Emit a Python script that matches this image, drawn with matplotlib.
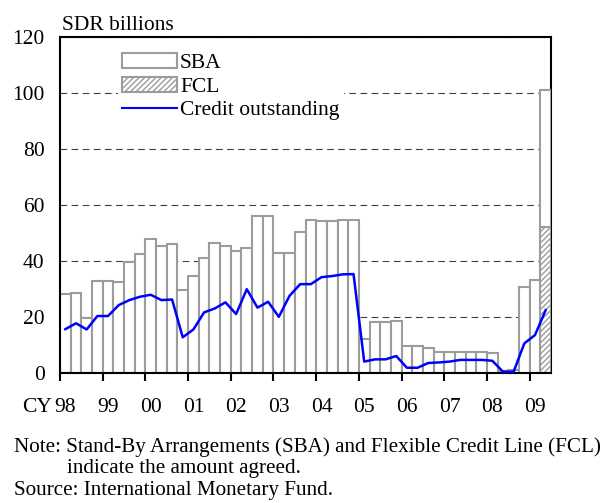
import matplotlib.pyplot as plt
from matplotlib.patches import Patch
from matplotlib.lines import Line2D
import numpy as np

plt.rcParams['font.family'] = ['Liberation Serif', 'DejaVu Serif']
plt.rcParams['hatch.linewidth'] = 1.0

# quarterly, 1998Q1 .. 2009Q2 (SDR billions)
sba = [28.1, 28.5, 19.6, 32.7, 32.7, 32.5, 39.5, 42.3, 47.9, 45.2, 46.1, 29.5,
       34.5, 41.1, 46.4, 45.4, 43.4, 44.6, 55.9, 55.9, 42.6, 42.8, 50.2, 54.5,
       54.2, 54.2, 54.5, 54.5, 11.9, 18.1, 18.1, 18.5, 9.6, 9.6, 8.9, 7.4,
       7.4, 7.4, 7.4, 7.4, 7.1, 0.5, 1.0, 30.7, 33.0, 49.1]
fcl = [0.0] * 45 + [52.0]
credit = [15.5, 17.6, 15.4, 20.2, 20.2, 24.1, 25.9, 27.1, 27.8, 25.9, 26.1, 12.6,
          15.4, 21.5, 22.9, 25.1, 20.9, 29.8, 23.2, 25.3, 19.9, 27.4, 31.6, 31.6,
          34.1, 34.5, 35.1, 35.2, 3.9, 4.7, 4.7, 5.9, 1.7, 1.7, 3.4, 3.6,
          3.9, 4.5, 4.5, 4.5, 4.2, 0.3, 0.3, 10.4, 13.4, 22.3]
years = ['98', '99', '00', '01', '02', '03', '04', '05', '06', '07', '08', '09']

gray = '#9c9c9c'
fs = 15.5
fig = plt.figure(figsize=(6.06, 5.03), dpi=100)
ax = fig.add_axes([60 / 606, 1 - 372.5 / 503, 491 / 606, 335.5 / 503])

x = np.arange(len(sba)) + 0.5
ax.bar(x, fcl, width=1.0, color='white', edgecolor=gray, hatch='//////',
       linewidth=1.5, zorder=2)
ax.bar(x, sba, width=1.0, bottom=fcl, color='white', edgecolor=gray,
       linewidth=1.5, zorder=2)
ax.plot(x, credit, color='#0000ff', lw=1.8, zorder=3)

ax.set_xlim(0, len(sba))
ax.set_ylim(0, 120)
ax.set_yticks(np.arange(0, 121, 20))
ax.tick_params(axis='y', length=0, pad=11, labelsize=fs)
ax.set_xticks(np.arange(0, 45, 4))
ax.set_xticklabels([])
ax.set_xticks(np.arange(0, 45, 4) + 0.5, minor=True)
ax.set_xticklabels(years, minor=True)
ax.tick_params(axis='x', which='major', length=6, width=1.5, direction='out')
ax.tick_params(axis='x', which='minor', length=0, pad=18, labelsize=fs)
ax.annotate('CY', xy=(0, 0), xycoords='axes fraction', xytext=(-6, -25.5),
            textcoords='offset points', ha='right', va='center', fontsize=fs)

ax.set_axisbelow(True)
ax.yaxis.grid(True, color='#404040', lw=0.8, dashes=(6, 4))
for s in ax.spines.values():
    s.set_linewidth(1.5)
ax.spines['right'].set_zorder(1.5)

handles = [Patch(facecolor='white', edgecolor=gray, lw=1.5),
           Patch(facecolor='white', edgecolor=gray, hatch='//////', lw=1.5),
           Line2D([], [], color='#0000ff', lw=1.5)]
leg = ax.legend(handles, ['SBA', 'FCL', 'Credit outstanding'], loc='upper left',
                bbox_to_anchor=(0.118, 0.965), fontsize=fs, frameon=True,
                framealpha=1, edgecolor='none', fancybox=False,
                handlelength=2.56, handletextpad=0.12, labelspacing=0.16,
                borderpad=0.2, borderaxespad=0)

fig.text(62 / 606, 1 - 25 / 503, 'SDR billions', fontsize=fs, va='center')
fig.text(14 / 606, 1 - 447 / 503,
         'Note: Stand-By Arrangements (SBA) and Flexible Credit Line (FCL)',
         fontsize=15.2, va='center')
fig.text(67 / 606, 1 - 469 / 503, 'indicate the amount agreed.',
         fontsize=15.2, va='center')
fig.text(14 / 606, 1 - 491 / 503, 'Source: International Monetary Fund.',
         fontsize=15.2, va='center')

fig.savefig('out.png', dpi=100)
